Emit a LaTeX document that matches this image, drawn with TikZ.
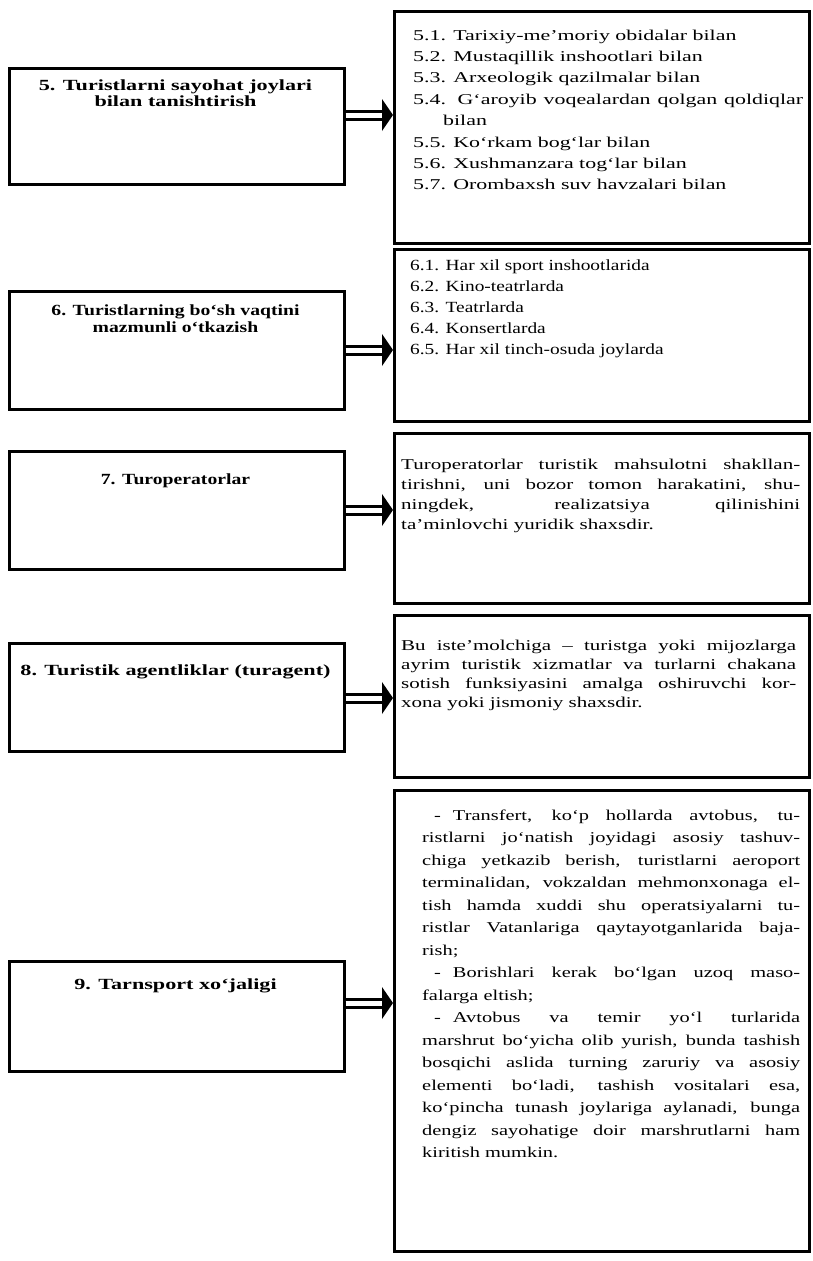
\documentclass[tikz,border=0pt]{standalone}
\usepackage{fontspec}
\setmainfont{Liberation Serif}
\newfontfamily\labA[FakeStretch=1.43]{Liberation Serif}
\newfontfamily\labB[FakeStretch=1.27]{Liberation Serif}
\newfontfamily\txtA[FakeStretch=1.46]{Liberation Serif}
\newfontfamily\txtB[FakeStretch=1.25]{Liberation Serif}
\newfontfamily\txtC[FakeStretch=1.40]{Liberation Serif}
\newfontfamily\txtD[FakeStretch=1.36]{Liberation Serif}
\newcommand{\jl}[2]{\makebox[#1][s]{#2}}
\newcommand{\dsh}{\hspace*{12pt}-\hspace{12pt}}
\begin{document}
\begin{tikzpicture}[x=1pt,y=-1pt,
  box/.style={draw=black, line width=2.6pt, inner sep=0pt, anchor=north west},
  lab/.style={anchor=base, inner sep=0pt},
  txt/.style={anchor=base west, inner sep=0pt},
  shaft/.style={line width=3pt, double=white, double distance=5pt},
  head/.style={fill=black}
]
\fill[white] (0,0) rectangle (813,1261);
\useasboundingbox (0,0) rectangle (813,1261);

% left boxes
\node[box, minimum width=335pt, minimum height=116pt] (L5) at (8,67) {};
\node[box, minimum width=335pt, minimum height=118pt] (L6) at (8,290) {};
\node[box, minimum width=335pt, minimum height=118pt] (L7) at (8,450) {};
\node[box, minimum width=335pt, minimum height=108pt] (L8) at (8,642) {};
\node[box, minimum width=335pt, minimum height=110pt] (L9) at (8,960) {};

% right boxes
\node[box, minimum width=415pt, minimum height=232pt] (R5) at (393,10) {};
\node[box, minimum width=415pt, minimum height=172pt] (R6) at (393,248) {};
\node[box, minimum width=415pt, minimum height=170pt] (R7) at (393,432) {};
\node[box, minimum width=415pt, minimum height=162pt] (R8) at (393,614) {};
\node[box, minimum width=415pt, minimum height=461pt] (R9) at (393,789) {};

% labels
\node[lab] (t5) at (175.5,90) {\parbox[t]{335pt}{\centering\labA\bfseries\fontsize{15.5}{16.5}\selectfont
5. Turistlarni sayohat joylari\\bilan tanishtirish}};
\node[lab] (t6) at (175.5,315) {\parbox[t]{335pt}{\centering\labB\bfseries\fontsize{15.5}{17}\selectfont
6. Turistlarning bo‘sh vaqtini\\mazmunli o‘tkazish}};
\node[lab] (t7) at (175.5,484) {\parbox[t]{335pt}{\centering\labB\bfseries\fontsize{15.5}{17}\selectfont
7. Turoperatorlar}};
\node[lab] (t8) at (175.5,675) {\parbox[t]{335pt}{\centering\labA\bfseries\fontsize{15.5}{17}\selectfont
8. Turistik agentliklar (turagent)}};
\node[lab] (t9) at (175.5,989) {\parbox[t]{335pt}{\centering\labA\bfseries\fontsize{15.5}{17}\selectfont
9. Tarnsport xo‘jaligi}};

% right texts
\node[txt] (x5) at (413,40) {\parbox[t]{392pt}{\txtA\fontsize{15}{21.4}\selectfont\raggedright
5.1. Tarixiy-me’moriy obidalar bilan\\
5.2. Mustaqillik inshootlari bilan\\
5.3. Arxeologik qazilmalar bilan\\
\jl{390pt}{5.4. G‘aroyib voqealardan qolgan qoldiqlar}\\
\hspace*{30pt}bilan\\
5.5. Ko‘rkam bog‘lar bilan\\
5.6. Xushmanzara tog‘lar bilan\\
5.7. Orombaxsh suv havzalari bilan}};

\node[txt] (x6) at (410,270) {\parbox[t]{392pt}{\txtB\fontsize{15.5}{21}\selectfont\raggedright
6.1. Har xil sport inshootlarida\\
6.2. Kino-teatrlarda\\
6.3. Teatrlarda\\
6.4. Konsertlarda\\
6.5. Har xil tinch-osuda joylarda}};

\node[txt] (x7) at (401,469) {\parbox[t]{400pt}{\txtC\fontsize{15}{20}\selectfont\raggedright
\jl{399pt}{Turoperatorlar turistik mahsulotni shakllan-}\\
\jl{399pt}{tirishni, uni bozor tomon harakatini, shu-}\\
\jl{399pt}{ningdek, realizatsiya qilinishini}\\
ta’minlovchi yuridik shaxsdir.}};

\node[txt] (x8) at (401,650) {\parbox[t]{400pt}{\txtC\fontsize{15}{19}\selectfont\raggedright
\jl{395pt}{Bu iste’molchiga – turistga yoki mijozlarga}\\
\jl{395pt}{ayrim turistik xizmatlar va turlarni chakana}\\
\jl{395pt}{sotish funksiyasini amalga oshiruvchi kor-}\\
xona yoki jismoniy shaxsdir.}};

\node[txt] (x9) at (422,820) {\parbox[t]{380pt}{\txtD\fontsize{15}{22.5}\selectfont\raggedright
\jl{378pt}{\dsh Transfert, ko‘p hollarda avtobus, tu-}\\
\jl{378pt}{ristlarni jo‘natish joyidagi asosiy tashuv-}\\
\jl{378pt}{chiga yetkazib berish, turistlarni aeroport}\\
\jl{378pt}{terminalidan, vokzaldan mehmonxonaga el-}\\
\jl{378pt}{tish hamda xuddi shu operatsiyalarni tu-}\\
\jl{378pt}{ristlar Vatanlariga qaytayotganlarida baja-}\\
rish;\\
\jl{378pt}{\dsh Borishlari kerak bo‘lgan uzoq maso-}\\
falarga eltish;\\
\jl{378pt}{\dsh Avtobus va temir yo‘l turlarida}\\
\jl{378pt}{marshrut bo‘yicha olib yurish, bunda tashish}\\
\jl{378pt}{bosqichi aslida turning zaruriy va asosiy}\\
\jl{378pt}{elementi bo‘ladi, tashish vositalari esa,}\\
\jl{378pt}{ko‘pincha tunash joylariga aylanadi, bunga}\\
\jl{378pt}{dengiz sayohatige doir marshrutlarni ham}\\
kiritish mumkin.}};

% arrows
\path (R5.west |- 0,115) coordinate (h5);
\path (R6.west |- 0,350) coordinate (h6);
\path (R7.west |- 0,510) coordinate (h7);
\path (R8.west |- 0,698) coordinate (h8);
\path (R9.west |- 0,1003) coordinate (h9);
\foreach \l/\h in {L5/h5, L6/h6, L7/h7, L8/h8, L9/h9}{
  \draw[shaft] (\l.east |- \h) -- ([xshift=-8pt]\h);
  \fill[head] (\h) -- ++(-11,-16) -- ++(0,32) -- cycle;
}
\end{tikzpicture}
\end{document}
